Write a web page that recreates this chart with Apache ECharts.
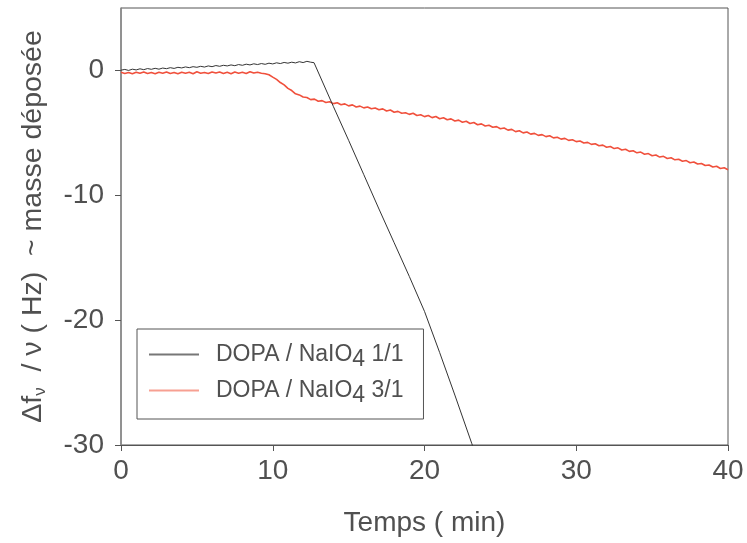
<!DOCTYPE html>
<html><head><meta charset="utf-8">
<script src="https://cdn.jsdelivr.net/npm/echarts@6/dist/echarts.min.js"></script>
<style>html,body{margin:0;padding:0;background:#fff}#c{width:747px;height:543px}</style>
</head><body><div id="c"></div>
<script>
// Series 1: DOPA / NaIO4 1/1 (black) — baseline sampled every 0.25 min from 0 to 12.5
const blackStart = 0, blackStep = 0.25;
const blackBase = [
  0.02, 0.08, 0.0, 0.10,
  0.04, 0.13, 0.06, 0.15,
  0.09, 0.17, 0.10, 0.19,
  0.14, 0.22, 0.16, 0.25,
  0.20, 0.28, 0.22, 0.30,
  0.25, 0.33, 0.27, 0.36,
  0.30, 0.39, 0.33, 0.41,
  0.36, 0.44, 0.38, 0.47,
  0.41, 0.50, 0.44, 0.53,
  0.47, 0.55, 0.49, 0.58,
  0.52, 0.61, 0.55, 0.64,
  0.58, 0.66, 0.60, 0.70,
  0.63, 0.73, 0.66
];
// Black drop after the break (time, value)
const blackDropT = [12.72, 14.0, 15.0, 16.0, 17.0, 18.0, 19.0, 20.0, 21.0, 22.0, 23.11, 23.5];
const blackDropV = [0.62, -2.9, -5.6, -8.35, -11.1, -13.8, -16.5, -19.3, -22.6, -26.0, -29.86, -31.2];

// Series 2: DOPA / NaIO4 3/1 (red) — sampled every 0.25 min from 0 to 40
const redStart = 0, redStep = 0.25;
const redValues = [
  -0.15, -0.24, -0.16, -0.26,
  -0.14, -0.23, -0.13, -0.25,
  -0.17, -0.27, -0.15, -0.22,
  -0.12, -0.24, -0.16, -0.26,
  -0.14, -0.23, -0.15, -0.27,
  -0.11, -0.22, -0.16, -0.25,
  -0.13, -0.21, -0.12, -0.24,
  -0.15, -0.26, -0.12, -0.22,
  -0.14, -0.24, -0.10, -0.21,
  -0.14, -0.22, -0.26, -0.35,
  -0.54, -0.72, -0.97, -1.16,
  -1.44, -1.61, -1.87, -1.96,
  -2.13, -2.17, -2.34, -2.30,
  -2.47, -2.42, -2.57, -2.51,
  -2.66, -2.59, -2.75, -2.68,
  -2.84, -2.76, -2.93, -2.86,
  -3.00, -2.93, -3.07, -3.01,
  -3.15, -3.08, -3.25, -3.17,
  -3.35, -3.28, -3.43, -3.39,
  -3.52, -3.43, -3.61, -3.55,
  -3.70, -3.61, -3.78, -3.69,
  -3.87, -3.79, -3.95, -3.88,
  -4.05, -3.98, -4.15, -4.07,
  -4.25, -4.17, -4.35, -4.28,
  -4.45, -4.39, -4.55, -4.50,
  -4.67, -4.61, -4.78, -4.72,
  -4.90, -4.83, -5.00, -4.93,
  -5.10, -5.04, -5.20, -5.14,
  -5.30, -5.23, -5.40, -5.35,
  -5.50, -5.44, -5.60, -5.55,
  -5.70, -5.65, -5.81, -5.76,
  -5.92, -5.87, -6.03, -5.98,
  -6.15, -6.09, -6.26, -6.20,
  -6.37, -6.31, -6.48, -6.43,
  -6.60, -6.54, -6.71, -6.66,
  -6.83, -6.77, -6.94, -6.88,
  -7.05, -6.99, -7.16, -7.11,
  -7.27, -7.22, -7.39, -7.34,
  -7.50, -7.45, -7.62, -7.57,
  -7.74, -7.68, -7.85, -7.80,
  -7.95
];

const xTicks = [0, 10, 20, 30, 40];
const yTicks = [-30, -20, -10, 0];
const seriesNames = ['DOPA / NaIO4 1/1', 'DOPA / NaIO4 3/1'];

const blackData = blackBase.map((v, i) => [blackStart + i * blackStep, v])
  .concat(blackDropT.map((t, i) => [t, blackDropV[i]]));
const redData = redValues.map((v, i) => [redStart + i * redStep, v]);

const FONT = '"Liberation Sans", Arial, sans-serif';
const TXT = '#505050';

const chart = echarts.init(document.getElementById('c'), null, {renderer: 'canvas'});
chart.setOption({
  animation: false,
  backgroundColor: '#ffffff',
  grid: {left: 121, right: 19, top: 8, bottom: 98, show: true, borderColor: '#555', borderWidth: 1, backgroundColor: 'transparent'},
  xAxis: {
    type: 'value', min: 0, max: 40, interval: 10,
    name: 'Temps ( min)', nameLocation: 'middle', nameGap: 64,
    nameTextStyle: {fontFamily: FONT, fontSize: 28, color: TXT},
    axisLine: {show: true, onZero: false, lineStyle: {color: '#555', width: 1}},
    axisTick: {show: true, inside: false, length: 6, lineStyle: {color: '#555'}, customValues: xTicks},
    axisLabel: {fontFamily: FONT, fontSize: 28, color: TXT, margin: 12, customValues: xTicks},
    splitLine: {show: false}
  },
  yAxis: {
    type: 'value', min: -30, max: 5,
    name: '{a|Δf}{s|ν}{a|  / ν ( Hz)  ~ masse déposée}', nameLocation: 'middle', nameGap: 72, nameRotate: 90,
    nameTextStyle: {fontFamily: FONT, fontSize: 28, color: TXT,
      rich: {a: {fontFamily: FONT, fontSize: 28.5, color: TXT}, s: {fontFamily: FONT, fontSize: 17, color: TXT, padding: [14, 0, 0, 0]}}},
    axisLine: {show: true, onZero: false, lineStyle: {color: '#8a8a8a', width: 1.5}},
    axisTick: {show: true, inside: false, length: 6, lineStyle: {color: '#555'}, customValues: yTicks},
    axisLabel: {fontFamily: FONT, fontSize: 28, color: TXT, margin: 17, customValues: yTicks},
    splitLine: {show: false}
  },
  legend: {
    orient: 'vertical', left: 137, top: 329,
    padding: [14, 20, 12, 12], itemGap: 8,
    itemWidth: 50, itemHeight: 2,
    borderColor: '#555', borderWidth: 1, backgroundColor: '#fff',
    formatter: function (n) {
      const p = n.split('4');
      return '{a|' + p[0] + '}{s|4}{a|' + p[1] + '}';
    },
    data: [
      {name: seriesNames[0], icon: 'rect', itemStyle: {color: '#777'}},
      {name: seriesNames[1], icon: 'rect', itemStyle: {color: '#f7a092'}}
    ],
    textStyle: {fontFamily: FONT, fontSize: 23, color: TXT, padding: [0, 0, 0, 12],
      rich: {a: {fontFamily: FONT, fontSize: 23, color: TXT}, s: {fontFamily: FONT, fontSize: 23, color: TXT, padding: [10, 0, 0, 0]}}}
  },
  series: [
    {name: seriesNames[0], type: 'line', data: blackData, symbol: 'none', clip: true,
     lineStyle: {color: '#333', width: 1}, itemStyle: {color: '#333'}, z: 3},
    {name: seriesNames[1], type: 'line', data: redData, symbol: 'none', clip: true,
     lineStyle: {color: '#f0503c', width: 1.6}, itemStyle: {color: '#f58f80'}, z: 2}
  ]
});
</script></body></html>
